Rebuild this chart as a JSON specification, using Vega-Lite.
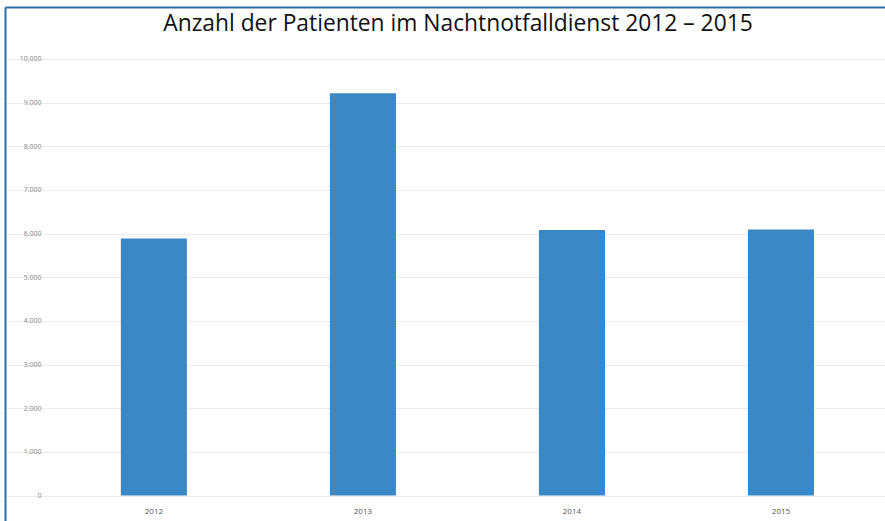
{
  "$schema": "https://vega.github.io/schema/vega-lite/v6.json",
  "autosize": "none",
  "width": 880,
  "height": 514,
  "padding": {"left": 5, "top": 7, "right": 0, "bottom": 0},
  "background": "#ffffff",
  "title": {
    "text": "Anzahl der Patienten im Nachtnotfalldienst 2012 – 2015",
    "font": "Open Sans",
    "fontSize": 22.8,
    "fontWeight": "normal",
    "color": "#111111",
    "anchor": "middle",
    "offset": -29,
    "dx": 13
  },
  "data": {
    "values": [
      {"jahr": "2012", "patienten": 5890},
      {"jahr": "2013", "patienten": 9215},
      {"jahr": "2014", "patienten": 6080},
      {"jahr": "2015", "patienten": 6095}
    ]
  },
  "encoding": {
    "y": {
      "field": "patienten",
      "type": "quantitative",
      "scale": {"domain": [-584, 11191], "nice": false, "zero": false},
      "axis": {
        "title": null,
        "orient": "left",
        "domain": true,
        "domainColor": "#2f6ea6",
        "domainWidth": 2,
        "ticks": false,
        "labelPadding": -36,
        "values": [0, 1000, 2000, 3000, 4000, 5000, 6000, 7000, 8000, 9000, 10000],
        "labelExpr": "replace(format(datum.value, ','), ',', '.')",
        "labelFont": "Open Sans",
        "labelFontSize": 7,
        "labelColor": "#888888",
        "grid": true,
        "gridColor": "#ececec",
        "gridWidth": 1
      }
    },
    "y2": {"datum": 0}
  },
  "layer": [
    {
      "mark": {"type": "bar", "color": "#3a88c6"},
      "encoding": {
        "x": {
          "field": "jahr",
          "type": "nominal",
          "sort": null,
          "scale": {"paddingInner": 0.684, "paddingOuter": 0.447, "align": 0.62},
          "axis": {
            "title": null,
            "orient": "bottom",
            "offset": -14,
            "domain": false,
            "ticks": false,
            "labelPadding": 0,
            "labelAngle": 0,
            "labelFont": "Open Sans",
            "labelFontSize": 8,
            "labelColor": "#555555",
            "grid": false
          }
        }
      }
    },
    {
      "mark": {"type": "bar", "opacity": 0},
      "encoding": {
        "x": {
          "field": "jahr",
          "type": "nominal",
          "sort": null,
          "axis": {
            "title": null,
            "orient": "top",
            "domain": true,
            "domainColor": "#2f6ea6",
            "domainWidth": 2,
            "ticks": false,
            "labels": false,
            "grid": false
          }
        }
      }
    }
  ],
  "resolve": {"axis": {"x": "independent"}},
  "config": {
    "view": {"stroke": null}
  }
}
